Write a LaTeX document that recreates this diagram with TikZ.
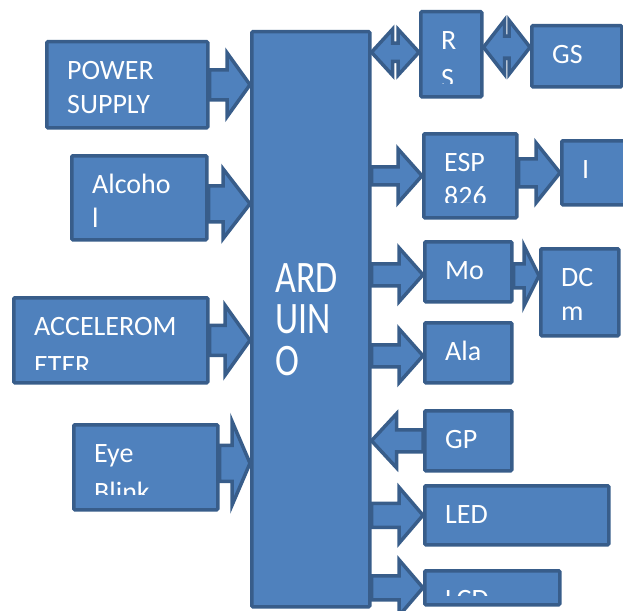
\documentclass[tikz,border=0pt]{standalone}
\usepackage{fontspec}
\setmainfont{Carlito}
\usetikzlibrary{calc}
\definecolor{blockfill}{HTML}{4F81BD}
\definecolor{blockline}{HTML}{385D8A}

\newcommand{\topstrut}{\rule{0pt}{24pt}}
% label in the top left corner of a block, cut off #3 above its lower edge
\newcommand{\blocklabel}[4][]{%
  \begin{scope}
    \clip ([shift={(2,2)}]#2.north west) rectangle ([shift={(-2,-#3)}]#2.south east);
    \node[lbl,#1] (#2label) at ([shift={(22,15)}]#2.north west) {\topstrut#4};
  \end{scope}}
% fat arrow: from, to, shaft half, head half, head length
\newcommand{\fatarrow}[5]{%
  \filldraw[conn] let \p1=#1, \p2=#2 in
    (\x1,{\y2+#3pt}) -- ({\x2-(#5pt)},{\y2+#3pt}) -- ({\x2-(#5pt)},{\y2+#4pt}) -- (\x2,\y2)
    -- ({\x2-(#5pt)},{\y2-#4pt}) -- ({\x2-(#5pt)},{\y2-#3pt}) -- (\x1,{\y2-#3pt}) -- cycle;}
\newcommand{\dblarrow}[5]{%
  \filldraw[conn] let \p1=#1, \p2=#2 in
    (\x1,\y2) -- ({\x1+#5pt},{\y2+#4pt}) -- ({\x1+#5pt},{\y2+#3pt}) -- ({\x2-#5pt},{\y2+#3pt})
    -- ({\x2-#5pt},{\y2+#4pt}) -- (\x2,\y2) -- ({\x2-#5pt},{\y2-#4pt}) -- ({\x2-#5pt},{\y2-#3pt})
    -- ({\x1+#5pt},{\y2-#3pt}) -- ({\x1+#5pt},{\y2-#4pt}) -- cycle;}

\begin{document}
\begin{tikzpicture}[
    x=1pt, y=-1pt,
    blk/.style={rectangle, draw=blockline, fill=blockfill, line width=3.5pt, rounded corners=1pt, inner sep=0pt, anchor=north west},
    lbl/.style={text=white, inner sep=0pt, anchor=north west, align=left, font=\fontsize{28}{34}\selectfont},
    conn/.style={fill=blockfill, draw=blockline, line width=3.5pt, line join=miter}
]
\useasboundingbox (0,0) rectangle (623,610);

% inputs
\node[blk, minimum width=161pt, minimum height=86pt] (power) at (45,40) {};
\node[blk, minimum width=135pt, minimum height=84pt] (alcohol) at (70,154) {};
\node[blk, minimum width=194pt, minimum height=85pt] (accel) at (12,296) {};
\node[blk, minimum width=144pt, minimum height=85pt] (eye) at (72,423) {};

% controller
\node[blk, minimum width=118pt, minimum height=575pt] (arduino) at (250,30) {};
\node[lbl, font=\fontsize{36}{33}\selectfont, anchor=west, yscale=1.25] (ardlabel) at (275,319.5) {ARD\\UIN\\O};

% outputs
\node[blk, minimum width=61pt, minimum height=85pt] (rs) at (419,10) {};
\node[blk, minimum width=90pt, minimum height=61pt] (gs) at (530,24) {};
\node[blk, minimum width=93pt, minimum height=84pt] (esp) at (422,132) {};
\node[blk, minimum width=80pt, minimum height=64pt] (iot) at (560,139) {};
\node[blk, minimum width=87pt, minimum height=60pt] (mo) at (423,240) {};
\node[blk, minimum width=78pt, minimum height=87pt] (dcm) at (539,247) {};
\node[blk, minimum width=87pt, minimum height=60pt] (ala) at (423,321) {};
\node[blk, minimum width=87pt, minimum height=60pt] (gp) at (423,409) {};
\node[blk, minimum width=184pt, minimum height=59pt] (led) at (423,484) {};
\node[blk, minimum width=135pt, minimum height=34pt] (lcd) at (423,569) {};

% labels
\blocklabel{power}{12}{POWER\\SUPPLY}
\blocklabel{alcohol}{12}{Alcoho\\l}
\blocklabel[font=\fontsize{28}{39}\selectfont]{accel}{15}{ACCELEROM\\ETER}
\blocklabel[font=\fontsize{28}{39}\selectfont]{eye}{17}{Eye\\Blink}
\blocklabel[font=\fontsize{28}{38}\selectfont]{rs}{15}{R\\S}
\blocklabel{gs}{12}{GS}
\blocklabel{esp}{17}{ESP\\826}
\blocklabel{iot}{12}{I}
\blocklabel{mo}{12}{Mo}
\blocklabel{dcm}{12}{DC\\m}
\blocklabel{ala}{12}{Ala}
\blocklabel{gp}{12}{GP}
\blocklabel{led}{12}{LED}
\blocklabel{lcd}{11}{LCD}

% arrows in
\fatarrow{(power.east)}{(power.east -| arduino.west)}{15}{32}{23}
\fatarrow{(alcohol.east)}{([yshift=-6pt]alcohol.east -| arduino.west)}{18}{35}{27}
\fatarrow{(accel.east)}{(accel.east -| arduino.west)}{15}{35}{25}
\fatarrow{(eye.east)}{([yshift=4pt]eye.east -| arduino.west)}{18}{42}{18}
\fatarrow{(gp.west)}{(gp.west -| arduino.east)}{11}{27}{-25}

% arrows out
\dblarrow{(arduino.east |- rs.west)}{([yshift=2pt]rs.west)}{9}{23}{21}
\dblarrow{(rs.east)}{([yshift=9pt]gs.west)}{11}{27}{21}
\fatarrow{(arduino.east |- esp.west)}{(esp.west)}{9}{27}{24}
\fatarrow{(esp.east)}{(iot.west)}{14}{30}{24}
\fatarrow{(arduino.east |- mo.west)}{([yshift=-3pt]mo.west)}{11}{27}{24}
\fatarrow{(mo.east)}{([yshift=-4pt]mo.east -| dcm.west)}{12}{30}{15}
\fatarrow{(arduino.east |- ala.west)}{([yshift=-3pt]ala.west)}{11}{27}{24}
\fatarrow{(arduino.east |- led.west)}{(led.west)}{12}{28}{24}
\fatarrow{(arduino.east |- lcd.west)}{(lcd.west)}{12}{28}{24}

\end{tikzpicture}
\end{document}
